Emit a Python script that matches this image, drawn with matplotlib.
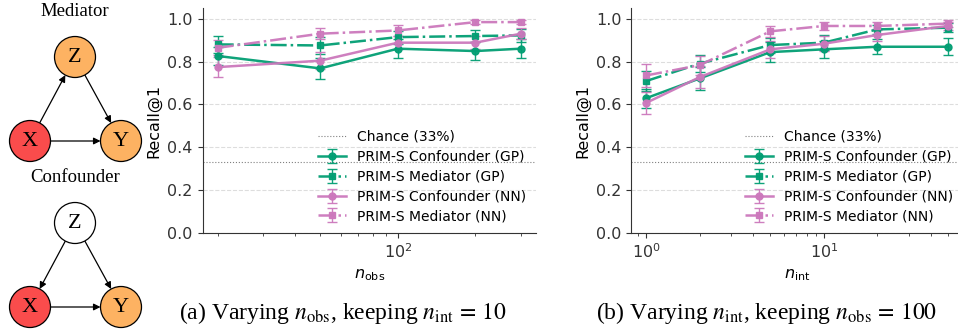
import matplotlib
matplotlib.use("Agg")
import matplotlib.pyplot as plt
from matplotlib.patches import Circle, FancyArrowPatch

# data
n_obs = [20, 50, 100, 200, 300]
n_int = [1, 2, 5, 10, 20, 50]
chance = 1 / 3

obs_conf_gp = [0.826, 0.768, 0.860, 0.849, 0.860]
obs_conf_gp_err = [0.04, 0.05, 0.045, 0.04, 0.045]
obs_med_gp = [0.880, 0.875, 0.914, 0.919, 0.922]
obs_med_gp_err = [0.04, 0.04, 0.03, 0.03, 0.03]
obs_conf_nn = [0.774, 0.804, 0.888, 0.888, 0.930]
obs_conf_nn_err = [0.045, 0.04, 0.03, 0.03, 0.025]
obs_med_nn = [0.864, 0.930, 0.945, 0.984, 0.984]
obs_med_nn_err = [0.035, 0.025, 0.025, 0.01, 0.01]

int_conf_gp = [0.629, 0.721, 0.844, 0.857, 0.869, 0.869]
int_conf_gp_err = [0.045, 0.055, 0.045, 0.04, 0.035, 0.04]
int_med_gp = [0.709, 0.790, 0.877, 0.888, 0.950, 0.958]
int_med_gp_err = [0.045, 0.04, 0.035, 0.035, 0.02, 0.02]
int_conf_nn = [0.607, 0.727, 0.857, 0.883, 0.924, 0.966]
int_conf_nn_err = [0.05, 0.05, 0.04, 0.035, 0.03, 0.02]
int_med_nn = [0.735, 0.783, 0.941, 0.966, 0.966, 0.977]
int_med_nn_err = [0.055, 0.045, 0.025, 0.02, 0.02, 0.015]

labels = ["PRIM-S Confounder (GP)", "PRIM-S Mediator (GP)",
          "PRIM-S Confounder (NN)", "PRIM-S Mediator (NN)"]

GREEN = "#029e73"
PINK = "#cc78bc"
styles = [(GREEN, "-", "o"), (GREEN, "-.", "s"), (PINK, "-", "o"), (PINK, "-.", "s")]

plt.rcParams["font.family"] = ["DejaVu Sans"]
plt.rcParams["axes.edgecolor"] = "#333333"
plt.rcParams["xtick.color"] = "#333333"
plt.rcParams["ytick.color"] = "#333333"

fig = plt.figure(figsize=(9.58, 3.29), dpi=100)


def panel(ax, x, series, errs, xlabel):
    ax.axhline(chance, color="gray", linestyle=":", linewidth=0.8, label="Chance (33%)")
    for (c, ls, m), y, e, lab in zip(styles, series, errs, labels):
        ax.errorbar(x, y, yerr=e, color=c, linestyle=ls, marker=m, markersize=5,
                    linewidth=1.8, elinewidth=1.0, capsize=3.5, ecolor=c,
                    alpha=0.95, label=lab)
    ax.set_xscale("log")
    ax.set_ylim(0, 1.05)
    ax.set_yticks([0.0, 0.2, 0.4, 0.6, 0.8, 1.0])
    ax.yaxis.grid(True, linestyle="--", color="#dddddd", linewidth=0.8)
    ax.set_axisbelow(True)
    ax.spines["top"].set_visible(False)
    ax.spines["right"].set_visible(False)
    ax.tick_params(labelsize=11.5)
    ax.set_ylabel("Recall@1", fontsize=11.5)
    ax.set_xlabel(xlabel, fontsize=11.5)
    ax.legend(loc="lower right", frameon=False, fontsize=10,
              handlelength=2.0, labelspacing=0.42, borderaxespad=0.3)


ax1 = fig.add_axes([0.2114, 0.2918, 0.348, 0.684])
panel(ax1, n_obs, [obs_conf_gp, obs_med_gp, obs_conf_nn, obs_med_nn],
      [obs_conf_gp_err, obs_med_gp_err, obs_conf_nn_err, obs_med_nn_err],
      r"$n_{\mathrm{obs}}$")

ax2 = fig.add_axes([0.6587, 0.2918, 0.3466, 0.684])
panel(ax2, n_int, [int_conf_gp, int_med_gp, int_conf_nn, int_med_nn],
      [int_conf_gp_err, int_med_gp_err, int_conf_nn_err, int_med_nn_err],
      r"$n_{\mathrm{int}}$")

cap_kw = dict(ha="center", va="center", fontsize=17, family="Liberation Serif",
              math_fontfamily="stix")
fig.text(0.3575, 0.049, r"(a) Varying $n_{\mathrm{obs}}$, keeping $n_{\mathrm{int}}\,=\,10$", **cap_kw)
fig.text(0.800, 0.049, r"(b) Varying $n_{\mathrm{int}}$, keeping $n_{\mathrm{obs}}\,=\,100$", **cap_kw)

# causal graph sketches on the left
gax = fig.add_axes([0, 0, 150 / 958, 1])
gax.set_xlim(0, 150)
gax.set_ylim(329, 0)
gax.axis("off")

RED = "#fa4c4c"
ORANGE = "#fdb262"
r = 20.5
shrink = r * 0.72  # pixels -> points at dpi 100


def graph(top, title, zcolor, edges):
    gax.text(75, top, title, ha="center", va="center", fontsize=13.5,
             family="Liberation Serif")
    pos = {"Z": (75, top + 45), "X": (30, top + 129), "Y": (121, top + 129)}
    cols = {"Z": zcolor, "X": RED, "Y": ORANGE}
    for k, (cx, cy) in pos.items():
        gax.add_patch(Circle((cx, cy), r, facecolor=cols[k], edgecolor="black",
                             linewidth=0.9, zorder=2))
        gax.text(cx, cy + 1, k, ha="center", va="center", fontsize=16,
                 family="Liberation Serif", zorder=3)
    for a, b in edges:
        gax.add_patch(FancyArrowPatch(pos[a], pos[b], arrowstyle="-|>", mutation_scale=10,
                                      shrinkA=shrink, shrinkB=shrink, color="black",
                                      linewidth=0.9, zorder=1))


graph(12, "Mediator", ORANGE, [("X", "Z"), ("Z", "Y"), ("X", "Y")])
graph(178, "Confounder", "white", [("Z", "X"), ("Z", "Y"), ("X", "Y")])

fig.savefig("out.png", dpi=100)
